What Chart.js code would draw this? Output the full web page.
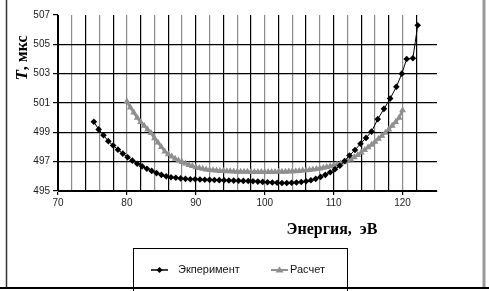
<!DOCTYPE html>
<html>
<script src="https://cdn.jsdelivr.net/npm/chart.js"></script>
<style type="text/css">
  body { margin: 0; background: #fff; }
  .chartBox { width: 489px; height: 291px; }
</style>
<body>
  <div class="chartBox">
    <canvas id="myChart" width="489" height="291"></canvas>
  </div>

  <script>
    // Эксперимент (black diamonds)
    const expX = [75.2, 75.9, 76.6, 77.3, 78.0, 78.7, 79.4, 80.1, 80.8, 81.5,
                  82.2, 82.9, 83.6, 84.3, 85.0, 85.7, 86.4, 87.1, 87.8, 88.5,
                  89.2, 89.9, 90.6, 91.3, 92.0, 92.7, 93.4, 94.1, 94.8, 95.5,
                  96.2, 96.9, 97.6, 98.3, 99.0, 99.7, 100.4, 101.1, 101.8, 102.5,
                  103.2, 103.9, 104.6, 105.3, 106.0, 106.7, 107.4, 108.1, 108.8, 109.5,
                  110.2, 110.9, 111.6, 112.3, 113.1, 113.9, 114.7, 115.5, 116.4, 117.3,
                  118.2, 119.1, 119.9, 120.6, 121.5, 122.2];
    const expY = [499.72, 499.2, 498.8, 498.4, 498.1, 497.82, 497.55, 497.3, 497.07, 496.86,
                  496.68, 496.52, 496.37, 496.22, 496.1, 496.0, 495.94, 495.9, 495.86, 495.83,
                  495.8, 495.8, 495.78, 495.77, 495.76, 495.75, 495.74, 495.73, 495.72, 495.71,
                  495.7, 495.69, 495.68, 495.66, 495.64, 495.62, 495.6, 495.58, 495.56, 495.55,
                  495.55, 495.56, 495.58, 495.61, 495.66, 495.73, 495.83, 495.96, 496.1, 496.28,
                  496.48, 496.72, 497.05, 497.42, 497.8, 498.22, 498.62, 499.05, 499.9, 500.6,
                  501.3, 502.1, 503.0, 504.0, 504.05, 506.3];

    // Расчет (gray triangles)
    const calcX = [80.0, 80.5, 81.0, 81.5, 82.0, 82.5, 83.0, 83.5, 84.0, 84.5,
                   85.0, 85.5, 86.0, 86.5, 87.0, 87.5, 88.0, 88.5, 89.0, 89.5,
                   90.0, 90.5, 91.0, 91.5, 92.0, 92.5, 93.0, 93.5, 94.0, 94.5,
                   95.0, 95.5, 96.0, 96.5, 97.0, 97.5, 98.0, 98.5, 99.0, 99.5,
                   100.0, 100.5, 101.0, 101.5, 102.0, 102.5, 103.0, 103.5, 104.0, 104.5,
                   105.0, 105.5, 106.0, 106.5, 107.0, 107.5, 108.0, 108.5, 109.0, 109.5,
                   110.0, 110.5, 111.0, 111.5, 112.0, 112.5, 113.0, 113.5, 114.0, 114.5,
                   115.0, 115.5, 116.0, 116.5, 117.0, 117.5, 118.0, 118.5, 119.0, 119.5,
                   120.0];
    const calcY = [501.1, 500.7, 500.35, 500.0, 499.7, 499.45, 499.2, 498.95, 498.6, 498.3,
                   498.0, 497.7, 497.5, 497.35, 497.2, 497.08, 496.97, 496.87, 496.78, 496.7,
                   496.62, 496.56, 496.51, 496.47, 496.44, 496.41, 496.39, 496.37, 496.36, 496.35,
                   496.34, 496.33, 496.32, 496.32, 496.31, 496.31, 496.3, 496.3, 496.3, 496.3,
                   496.3, 496.3, 496.3, 496.3, 496.31, 496.31, 496.32, 496.33, 496.34, 496.35,
                   496.37, 496.39, 496.41, 496.44, 496.47, 496.5, 496.54, 496.58, 496.63, 496.68,
                   496.74, 496.8, 496.88, 496.96, 497.05, 497.15, 497.3, 497.45, 497.62, 497.8,
                   497.98, 498.16, 498.36, 498.56, 498.77, 498.98, 499.2, 499.45, 499.7, 500.0,
                   500.5];

    const seriesNames = ['Экперимент', 'Расчет'];
    const xTitle = 'Энергия,  эВ';
    const yTitleItalic = 'T';
    const yTitleRest = ', мкс';

    const GRAY = '#8f8f8f';

    const toPoints = (xs, ys) => xs.map((x, i) => ({x: x, y: ys[i]}));

    // titles, legend box and frame drawn on top of the chart
    const decorations = {
      id: 'decorations',
      afterDraw(chart) {
        const c = chart.ctx;
        c.save();

        // outer frame
        c.lineWidth = 1.5;
        c.strokeStyle = '#333';
        c.beginPath(); c.moveTo(6.5, 0); c.lineTo(6.5, 288); c.stroke();
        c.lineWidth = 3;
        c.strokeStyle = '#999';
        c.beginPath(); c.moveTo(484, 0); c.lineTo(484, 288); c.stroke();
        c.lineWidth = 2;
        c.strokeStyle = '#000';
        c.beginPath(); c.moveTo(0, 288); c.lineTo(489, 288); c.stroke();

        // x title
        c.fillStyle = '#000';
        c.font = 'bold 16px "Liberation Serif"';
        c.textAlign = 'center';
        c.textBaseline = 'alphabetic';
        c.fillText(xTitle, 332, 234);

        // y title (rotated)
        c.translate(23, 58);
        c.rotate(-Math.PI / 2);
        c.textBaseline = 'middle';
        c.textAlign = 'left';
        c.font = 'italic bold 17px "Liberation Serif"';
        const w1 = c.measureText(yTitleItalic).width;
        c.font = 'bold 16px "Liberation Serif"';
        const w2 = c.measureText(yTitleRest).width;
        let sx = -(w1 + w2) / 2;
        c.font = 'italic bold 17px "Liberation Serif"';
        c.fillText(yTitleItalic, sx, 0);
        c.font = 'bold 16px "Liberation Serif"';
        c.fillText(yTitleRest, sx + w1, 0);
        c.setTransform(1, 0, 0, 1, 0, 0);

        // legend box
        c.lineWidth = 1;
        c.strokeStyle = '#000';
        c.strokeRect(133.5, 248.5, 214, 45);

        const ly = 270;
        // black line + diamond
        c.strokeStyle = '#000';
        c.lineWidth = 1.5;
        c.beginPath(); c.moveTo(151, ly); c.lineTo(168, ly); c.stroke();
        c.fillStyle = '#000';
        c.beginPath();
        c.moveTo(159.5, ly - 3); c.lineTo(162.5, ly); c.lineTo(159.5, ly + 3); c.lineTo(156.5, ly);
        c.closePath(); c.fill();
        // gray line + triangle
        c.strokeStyle = GRAY;
        c.lineWidth = 2;
        c.beginPath(); c.moveTo(271, ly); c.lineTo(288, ly); c.stroke();
        c.fillStyle = GRAY;
        c.beginPath();
        c.moveTo(279.5, ly - 3.5); c.lineTo(283.5, ly + 2.5); c.lineTo(275.5, ly + 2.5);
        c.closePath(); c.fill();

        c.fillStyle = '#111';
        c.font = '11px "Liberation Sans"';
        c.textAlign = 'left';
        c.textBaseline = 'middle';
        c.fillText(seriesNames[0], 178, ly);
        c.fillText(seriesNames[1], 290, ly);

        c.restore();
      }
    };

    var ctx = document.getElementById('myChart').getContext('2d');
    var myChart = new Chart(ctx, {
      type: 'scatter',
      data: {
        datasets: [{
          label: seriesNames[0],
          data: toPoints(expX, expY),
          showLine: true,
          borderColor: '#000',
          borderWidth: 1,
          backgroundColor: '#000',
          pointStyle: 'rectRot',
          pointRadius: 3.3,
          pointBorderWidth: 0
        },
        {
          label: seriesNames[1],
          data: toPoints(calcX, calcY),
          showLine: true,
          borderColor: GRAY,
          borderWidth: 2.5,
          backgroundColor: GRAY,
          pointStyle: 'triangle',
          pointRadius: 4,
          pointBorderWidth: 0
        }]
      },
      options: {
        responsive: false,
        animation: false,
        events: [],
        layout: {
          padding: {left: 0, right: 52, top: 15, bottom: 60}
        },
        plugins: {
          legend: false,
          tooltip: {enabled: false}
        },
        scales: {
          x: {
            type: 'linear',
            min: 70,
            max: 125,
            afterFit(scale) { scale.height = 40; },
            ticks: {
              stepSize: 2,
              autoSkip: false,
              maxRotation: 0,
              padding: 2,
              color: '#222',
              font: {family: '"Liberation Sans"', size: 10},
              callback: (v) => v % 10 === 0 ? v : ''
            },
            grid: {
              color: (c) => {
                const v = c.tick ? c.tick.value : 0;
                if (v === 125) return 'rgba(0,0,0,0)';
                return v % 4 === 0 ? '#8a8a8a' : '#000';
              },
              lineWidth: 1.2,
              tickLength: 4,
              tickColor: (c) => (c.tick && c.tick.value % 10 === 0) ? '#000' : 'rgba(0,0,0,0)'
            },
            border: {color: '#000', width: 1}
          },
          y: {
            min: 495,
            max: 507,
            afterFit(scale) { scale.width = 58; },
            ticks: {
              stepSize: 2,
              padding: 3,
              color: '#222',
              font: {family: '"Liberation Sans"', size: 10}
            },
            grid: {
              color: (c) => (c.tick && c.tick.value === 507) ? 'rgba(0,0,0,0)' : '#000',
              lineWidth: 1.2,
              tickLength: 5,
              tickColor: '#000'
            },
            border: {color: '#000', width: 1}
          }
        }
      },
      plugins: [decorations]
    });
  </script>

</body>
</html>
